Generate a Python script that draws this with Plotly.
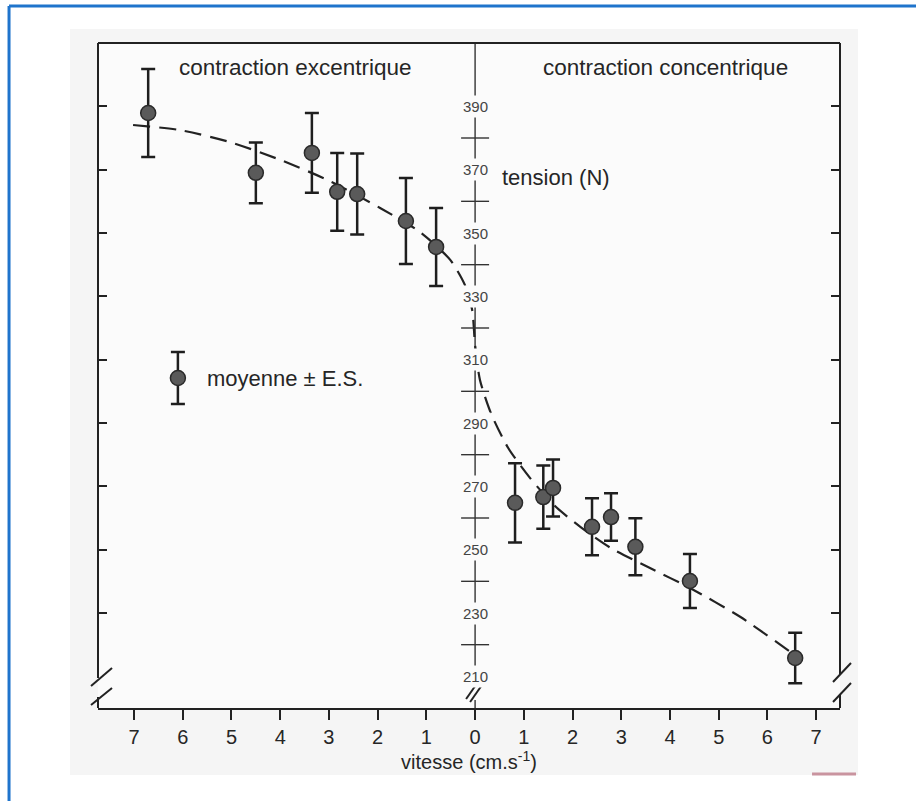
import plotly.graph_objects as go

# ---------------- data ----------------
ecc_speed = [-6.71, -4.50, -3.35, -2.83, -2.42, -1.42, -0.80]
ecc_tension = [387.9, 369.0, 375.3, 363.0, 362.3, 353.8, 345.6]
ecc_se = [13.9, 9.6, 12.6, 12.3, 12.8, 13.6, 12.3]

con_speed = [0.82, 1.40, 1.60, 2.40, 2.79, 3.29, 4.41, 6.57]
con_tension = [264.8, 266.6, 269.5, 257.2, 260.3, 250.9, 240.1, 215.8]
con_se = [12.5, 10.0, 9.0, 9.0, 7.5, 9.0, 8.5, 8.0]

curve_speed = [-7.02, -6.06, -5.03, -4.00, -2.98, -1.95, -1.13, -0.51, -0.21, -0.06,
               0.00, 0.10, 0.33, 0.68, 1.13, 1.64, 2.16, 2.79, 3.59, 4.41, 5.44, 6.47]
curve_tension = [384.1, 382.5, 378.7, 373.1, 366.4, 357.9, 350.3, 341.5, 333.6, 325.7,
                 314.6, 303.6, 292.9, 282.1, 272.6, 263.8, 257.2, 250.5, 244.2, 237.9, 228.8, 217.7]

legend_speed = [-6.10]
legend_tension = [304.2]
legend_se = [8.2]

x_tickvals = [-7, -6, -5, -4, -3, -2, -1, 0, 1, 2, 3, 4, 5, 6, 7]
x_ticktext = ["7", "6", "5", "4", "3", "2", "1", "0", "1", "2", "3", "4", "5", "6", "7"]
y_labels = [390, 370, 350, 330, 310, 290, 270, 250, 230, 210]
y_cross = [380, 360, 340, 320, 300, 280, 260, 240, 220]
frame_ticks = [390, 370, 350, 330, 310, 290, 270, 250, 230]

# ---------------- styles ----------------
INK = "#222222"
TXT = "#262626"
PLOT_BG = "#fbfbfb"
SCAN_BG = "#f5f5f5"
FONT = "Liberation Sans, Arial, sans-serif"

fig = go.Figure()

# dashed fitted curve
fig.add_trace(go.Scatter(
    x=curve_speed, y=curve_tension, mode="lines",
    line=dict(color=INK, width=2.2, dash="17px,9px", shape="spline", smoothing=0.7),
    hoverinfo="skip", showlegend=False))

marker_style = dict(size=15, color="#5a5a5a", line=dict(color="#2a2a2a", width=1.5))
err_style = dict(type="data", visible=True, color="#1e1e1e", thickness=2.5, width=7)

fig.add_trace(go.Scatter(
    x=ecc_speed, y=ecc_tension, mode="markers",
    error_y=dict(array=ecc_se, **err_style), marker=marker_style, showlegend=False))
fig.add_trace(go.Scatter(
    x=con_speed, y=con_tension, mode="markers",
    error_y=dict(array=con_se, **err_style), marker=marker_style, showlegend=False))
# legend sample
fig.add_trace(go.Scatter(
    x=legend_speed, y=legend_tension, mode="markers",
    error_y=dict(array=legend_se, **err_style), marker=marker_style, showlegend=False))

# central axis crosses (horizontal bars)
fig.add_trace(go.Scatter(
    x=[0] * len(y_cross), y=y_cross, mode="markers",
    marker=dict(symbol="line-ew", size=20, line=dict(color="#333333", width=1.4)),
    hoverinfo="skip", showlegend=False))

# dummy trace to activate the right-hand axis
fig.add_trace(go.Scatter(x=[0], y=[300], yaxis="y2", mode="markers",
                         marker=dict(size=1, opacity=0), showlegend=False, hoverinfo="skip"))

shapes = []
# scanned area and plot area backgrounds
shapes.append(dict(type="rect", xref="paper", yref="paper", x0=-0.0377, x1=1.0243, y0=-0.1008, y1=1.0211,
                   fillcolor=SCAN_BG, line=dict(width=0), layer="below"))
shapes.append(dict(type="rect", xref="paper", yref="paper", x0=0, x1=1, y0=0, y1=1,
                   fillcolor=PLOT_BG, line=dict(width=0), layer="below"))
# blue page border (top and left)
shapes.append(dict(type="line", xref="paper", yref="paper", x0=-0.1199, x1=1.2, y0=1.0556, y1=1.0556,
                   line=dict(color="#1f74cc", width=3)))
shapes.append(dict(type="line", xref="paper", yref="paper", x0=-0.1199, x1=-0.1199, y0=-0.2, y1=1.0556,
                   line=dict(color="#1f74cc", width=3)))
# pink scan artefact
shapes.append(dict(type="line", xref="paper", yref="paper", x0=0.9623, x1=1.0216, y0=-0.0992, y1=-0.0992,
                   line=dict(color="#c9949f", width=3)))

fl = dict(color=INK, width=2)
# top frame
shapes.append(dict(type="line", xref="paper", yref="paper", x0=0, x1=1, y0=1, y1=1, line=fl))
# left frame with break
shapes.append(dict(type="line", xref="paper", yref="paper", x0=0, x1=0, y0=0.0451, y1=1, line=fl))
shapes.append(dict(type="line", xref="paper", yref="paper", x0=0, x1=0, y0=0, y1=0.0165, line=fl))
shapes.append(dict(type="line", xref="paper", yref="paper", x0=-0.0094, x1=0.0189, y0=0.0331, y1=0.0602, line=fl))
shapes.append(dict(type="line", xref="paper", yref="paper", x0=-0.0094, x1=0.0189, y0=0.0045, y1=0.0301, line=fl))
# right frame with break
shapes.append(dict(type="line", xref="paper", yref="paper", x0=1, x1=1, y0=0.0511, y1=1, line=fl))
shapes.append(dict(type="line", xref="paper", yref="paper", x0=1, x1=1, y0=0, y1=0.0211, line=fl))
shapes.append(dict(type="line", xref="paper", yref="paper", x0=0.9906, x1=1.0148, y0=0.0391, y1=0.0677, line=fl))
shapes.append(dict(type="line", xref="paper", yref="paper", x0=0.9906, x1=1.0148, y0=0.0090, y1=0.0376, line=fl))
# central vertical axis
shapes.append(dict(type="line", xref="x", yref="y", x0=0, x1=0, y0=210, y1=410,
                   line=dict(color="#333333", width=1.4), layer="below"))
shapes.append(dict(type="line", xref="x", yref="paper", x0=0, x1=0, y0=0, y1=0.012,
                   line=dict(color="#333333", width=1.4)))
# central break marks
shapes.append(dict(type="line", xref="x", yref="paper", xsizemode="pixel", xanchor=0,
                   x0=-9, x1=5, y0=0.0135, y1=0.0436, line=fl))
shapes.append(dict(type="line", xref="x", yref="paper", xsizemode="pixel", xanchor=0,
                   x0=-5, x1=9, y0=0.0090, y1=0.0391, line=fl))

annotations = []
for v in y_labels:
    annotations.append(dict(x=0, y=v, xref="x", yref="y", text=str(v), showarrow=False,
                            font=dict(family=FONT, size=15, color="#444444"),
                            bgcolor=PLOT_BG, borderpad=2))
annotations.append(dict(x=-3.68, y=402.4, xref="x", yref="y", text="contraction excentrique",
                        showarrow=False, font=dict(family=FONT, size=22.5, color=TXT)))
annotations.append(dict(x=3.90, y=402.4, xref="x", yref="y", text="contraction concentrique",
                        showarrow=False, font=dict(family=FONT, size=22.5, color=TXT)))
annotations.append(dict(x=0.51, y=367.4, xref="x", yref="y", text="tension (N)", xanchor="left",
                        showarrow=False, font=dict(family=FONT, size=22, color=TXT)))
annotations.append(dict(x=-5.54, y=304.2, xref="x", yref="y", text="moyenne ± E.S.", xanchor="left",
                        showarrow=False, font=dict(family=FONT, size=22, color=TXT)))

fig.update_layout(
    width=916, height=801,
    margin=dict(l=98, r=76, t=43, b=93),
    paper_bgcolor="white",
    plot_bgcolor="rgba(0,0,0,0)",
    font=dict(family=FONT, color=TXT),
    showlegend=False,
    shapes=shapes,
    annotations=annotations,
    xaxis=dict(range=[-7.74, 7.49], tickvals=x_tickvals, ticktext=x_ticktext,
               ticks="outside", ticklen=10, tickwidth=1.5, tickcolor=INK,
               showline=True, linecolor=INK, linewidth=2, showgrid=False, zeroline=False,
               tickfont=dict(family=FONT, size=20, color=TXT),
               title=dict(text="vitesse (cm.s<sup>-1</sup>)", standoff=0,
                          font=dict(family=FONT, size=20, color=TXT))),
    yaxis=dict(range=[200, 410], tickvals=frame_ticks, ticks="inside", ticklen=9, tickwidth=1.5,
               tickcolor=INK, showticklabels=False, showgrid=False, zeroline=False, showline=False),
    yaxis2=dict(range=[200, 410], overlaying="y", side="right", tickvals=frame_ticks,
                ticks="inside", ticklen=9, tickwidth=1.5, tickcolor=INK, showticklabels=False,
                showgrid=False, zeroline=False, showline=False),
)

fig.write_html("out.html", config={"displayModeBar": False},
               post_script="document.body.style.margin='0';document.body.style.overflow='hidden';")
